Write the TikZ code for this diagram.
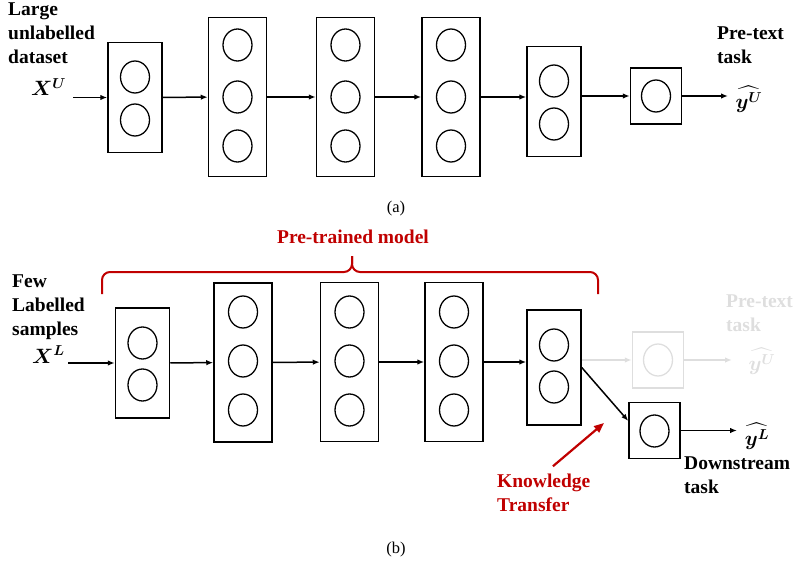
\documentclass[tikz,border=0pt]{standalone}
\usepackage{fontspec}
\setmainfont{Liberation Serif}
\usepackage{amsmath}
\usepackage{tikz}
\usetikzlibrary{shapes.geometric, arrows.meta, positioning}
\definecolor{darkred}{RGB}{192, 0, 0}
\definecolor{faded}{RGB}{222, 222, 222}

\begin{document}
\begin{tikzpicture}[
    x=1pt, y=-1pt,
    font=\fontsize{19.5}{24}\selectfont\bfseries,
    layer1/.style={draw, line width=1.5pt, minimum width=51pt, minimum height=56pt, inner sep=0pt},
    layer2/.style={draw, line width=1.5pt, minimum width=54pt, minimum height=110pt, inner sep=0pt},
    layer3/.style={draw, line width=1.5pt, minimum width=58pt, minimum height=159pt, inner sep=0pt},
    unit/.style={draw, ellipse, line width=1.3pt, minimum width=29pt, minimum height=32pt, inner sep=0pt},
    arrow/.style={-{Latex[length=7pt, width=5.5pt]}, line width=1.5pt},
    ktarrow/.style={-{Triangle[length=10pt, width=8pt]}, line width=2.2pt, draw=darkred},
    brace/.style={draw=darkred, line width=2pt, rounded corners=8pt},
    lbl/.style={align=left, inner sep=0pt, anchor=north west},
    ghost/.style={draw=faded, text=faded},
    caption/.style={font=\fontsize{16.5}{20}\selectfont\mdseries}
]
\useasboundingbox (0,0) rectangle (794,572);

% (a) pre-text training
\node[layer2] (a1) at (135,97.5) {};
\node[layer3] (a2) at (237.5,97) {};
\node[layer3] (a3) at (345.5,97) {};
\node[layer3] (a4) at (451,97) {};
\node[layer2] (a5) at (554,101.5) {};
\node[layer1] (a6) at (656,96) {};

\node[unit] (a1u1) at (135,77) {};
\node[unit] (a1u2) at (135,120) {};
\node[unit] (a2u1) at (237.5,45) {};
\node[unit] (a2u2) at (237.5,97) {};
\node[unit] (a2u3) at (237.5,146) {};
\node[unit] (a3u1) at (345.5,45) {};
\node[unit] (a3u2) at (345.5,97) {};
\node[unit] (a3u3) at (345.5,146) {};
\node[unit] (a4u1) at (451,45) {};
\node[unit] (a4u2) at (451,97) {};
\node[unit] (a4u3) at (451,146) {};
\node[unit] (a5u1) at (554,81) {};
\node[unit] (a5u2) at (554,124) {};
\node[unit] (a6u1) at (656,96) {};

\node[lbl] (lud) at (8,3) {Large\\unlabelled\\dataset};
\node[anchor=base west, inner sep=0pt] (xu) at (31,96) {$\boldsymbol{X^{U}}$};
\coordinate (ina) at (73,97.5);
\node[lbl] (ptt) at (717,27) {Pre-text\\task};
\coordinate (outa) at (728,96);
\node (yu) at (749,99) {$\boldsymbol{\widehat{y^{U}}}$};
\node[caption] (capa) at (396,209) {(a)};

\draw[arrow] (ina) -- (a1);
\draw[arrow] (a1) -- (a2);
\draw[arrow] (a2) -- (a3);
\draw[arrow] (a3) -- (a4);
\draw[arrow] (a4) -- (a5.west |- a4);
\draw[arrow] (a5.east |- a6) -- (a6);
\draw[arrow] (a6) -- (outa);

% (b) downstream fine-tuning
\node[layer2] (b1) at (142.5,363) {};
\node[layer3] (b2) at (243,362.5) {};
\node[layer3] (b3) at (349.5,362) {};
\node[layer3] (b4) at (454,362) {};
\node[layer2, minimum height=115pt] (b5) at (554,367.5) {};
\node[layer1, ghost] (b6) at (658,360) {};
\node[layer1] (ds) at (654.5,430.5) {};

\node[unit] (b1u1) at (142.5,343) {};
\node[unit] (b1u2) at (142.5,385) {};
\node[unit] (b2u1) at (243,312) {};
\node[unit] (b2u2) at (243,361) {};
\node[unit] (b2u3) at (243,410) {};
\node[unit] (b3u1) at (349.5,312) {};
\node[unit] (b3u2) at (349.5,361) {};
\node[unit] (b3u3) at (349.5,410) {};
\node[unit] (b4u1) at (454,312) {};
\node[unit] (b4u2) at (454,361) {};
\node[unit] (b4u3) at (454,410) {};
\node[unit] (b5u1) at (554,345) {};
\node[unit] (b5u2) at (554,387) {};
\node[unit, ghost] (b6u1) at (658,360) {};
\node[unit] (dsu1) at (654.5,431) {};

\node[lbl] (fls) at (12,275) {Few\\Labelled\\samples};
\node[anchor=base west, inner sep=0pt] (xl) at (32,363) {$\boldsymbol{X^{L}}$};
\coordinate (inb) at (68,363);
\node[lbl, text=faded] (ptg) at (726,295) {Pre-text\\task};
\coordinate (outg) at (732,360);
\node[text=faded] (yg) at (762,361) {$\boldsymbol{\widehat{y^{U}}}$};
\coordinate (outb) at (737,430.5);
\node (yl) at (757,436) {$\boldsymbol{\widehat{y^{L}}}$};
\node[lbl] (dst) at (684,457) {Downstream\\task};
\node[anchor=base, inner sep=0pt, text=darkred] (ptm) at (353,243) {Pre-trained model};
\node[lbl, text=darkred] (kt) at (497,474) {Knowledge\\Transfer};
\coordinate (kttip) at (604,423);
\node[caption] (capb) at (396,550) {(b)};

\draw[brace] (102,294) -- (102,272) -- (352,272) -- (352,256);
\draw[brace] (352,256) -- (352,272) -- (598,272) -- (598,294);

\draw[arrow] (inb) -- (b1);
\draw[arrow] (b1) -- (b2);
\draw[arrow] (b2) -- (b3);
\draw[arrow] (b3) -- (b4);
\draw[arrow] (b4) -- (b5.west |- b4);
\draw[arrow, faded] (b5.east |- b6) -- (b6);
\draw[arrow, faded] (b6) -- (outg);
\draw[arrow] (b5.east) -- (ds.160);
\draw[arrow] (ds) -- (outb);
\draw[ktarrow, shorten <=12pt] (kt.north) -- (kttip);
\end{tikzpicture}
\end{document}
